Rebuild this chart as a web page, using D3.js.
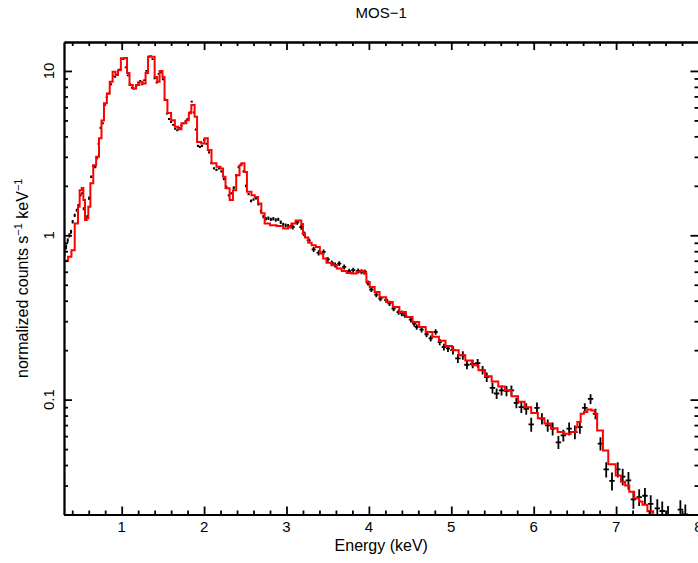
<!DOCTYPE html>
<html><head><meta charset="utf-8">
<script src="https://cdn.jsdelivr.net/npm/d3@7"></script>
<style>body{margin:0;background:#fff}svg{display:block}</style>
</head><body>
<svg id="c" width="698" height="563"></svg>
<script>
// ---------- data ----------
const chartTitle = "MOS\u22121";
const xDomain = [0.3, 8.0];
const yDomain = [0.02, 15];
const xMajorTicks = [1, 2, 3, 4, 5, 6, 7, 8];
const xMinorTicks = [0.4,0.6,0.8,1.2,1.4,1.6,1.8,2.2,2.4,2.6,2.8,3.2,3.4,3.6,3.8,4.2,4.4,4.6,4.8,5.2,5.4,5.6,5.8,6.2,6.4,6.6,6.8,7.2,7.4,7.6,7.8];
const yMajorTicks = [0.1, 1, 10];
const yMajorLabels = ["0.1", "1", "10"];
const yMinorTicks = [0.02,0.03,0.04,0.05,0.06,0.07,0.08,0.09,0.2,0.3,0.4,0.5,0.6,0.7,0.8,0.9,2,3,4,5,6,7,8,9];

// model: [left bin edge (keV), normalized counts s^-1 keV^-1]
const modelSteps = [
[0.300,0.70],[0.350,0.74],[0.390,0.81],[0.430,1.18],[0.470,1.49],[0.490,1.88],[0.515,1.94],[0.535,1.64],[0.555,1.24],[0.575,1.27],[0.595,1.49],[0.620,2.07],[0.655,2.67],[0.690,3.00],[0.725,3.89],[0.755,5.00],[0.785,6.35],[0.820,7.30],[0.855,8.60],[0.890,9.90],[0.925,9.44],[0.955,10.1],[0.990,11.9],[1.030,12.0],[1.065,9.70],[1.095,8.20],[1.135,7.83],[1.175,8.20],[1.215,8.60],[1.255,8.40],[1.290,9.70],[1.320,12.2],[1.360,12.2],[1.400,9.20],[1.430,8.60],[1.460,10.0],[1.495,9.20],[1.520,6.65],[1.555,5.55],[1.600,5.02],[1.645,4.57],[1.685,4.41],[1.725,4.80],[1.785,5.02],[1.815,5.52],[1.845,6.20],[1.885,5.26],[1.915,3.70],[1.965,3.62],[2.005,3.89],[2.045,3.30],[2.090,2.74],[2.150,2.61],[2.200,2.55],[2.230,2.27],[2.260,1.93],[2.310,1.64],[2.350,1.88],[2.390,2.32],[2.430,2.67],[2.455,2.74],[2.490,2.43],[2.520,1.84],[2.575,1.75],[2.615,1.71],[2.655,1.56],[2.695,1.36],[2.735,1.18],[2.800,1.15],[2.880,1.14],[2.960,1.10],[3.020,1.125],[3.060,1.18],[3.110,1.23],[3.180,1.17],[3.200,1.02],[3.225,0.97],[3.265,0.90],[3.305,0.87],[3.355,0.85],[3.405,0.775],[3.445,0.722],[3.485,0.68],[3.545,0.658],[3.610,0.628],[3.670,0.607],[3.730,0.59],[3.790,0.585],[3.850,0.599],[3.900,0.607],[3.940,0.585],[3.970,0.52],[4.010,0.485],[4.070,0.452],[4.130,0.42],[4.210,0.393],[4.290,0.366],[4.370,0.341],[4.450,0.318],[4.530,0.297],[4.610,0.277],[4.690,0.258],[4.770,0.241],[4.850,0.228],[4.930,0.212],[5.010,0.200],[5.090,0.186],[5.170,0.173],[5.250,0.162],[5.330,0.151],[5.410,0.139],[5.490,0.129],[5.570,0.120],[5.650,0.114],[5.730,0.105],[5.810,0.097],[5.890,0.090],[5.970,0.083],[6.050,0.077],[6.130,0.0715],[6.210,0.067],[6.290,0.0635],[6.370,0.062],[6.450,0.0635],[6.510,0.068],[6.530,0.073],[6.570,0.082],[6.610,0.084],[6.650,0.087],[6.700,0.086],[6.740,0.082],[6.770,0.065],[6.840,0.049],[6.905,0.0405],[6.995,0.0345],[7.060,0.0316],[7.110,0.030],[7.160,0.0275],[7.220,0.0251],[7.280,0.024],[7.320,0.0229],[7.380,0.0209],[7.450,0.0193],[7.520,0.018],[7.600,0.0165],[7.700,0.015],[7.800,0.0135],[7.900,0.012]
];
const modelLastEdge = 8.0;

// data bands: [energy (keV), value, 1-sigma error]; half bin widths per band
const softHalfWidth = 0.013;
const softData = [
[0.305,0.775,0.03],[0.325,0.85,0.03],[0.345,0.93,0.03],[0.365,1.00,0.03],[0.385,1.05,0.03],[0.405,1.21,0.03],[0.43,1.32,0.03],[0.455,1.42,0.03],[0.475,1.52,0.03],[0.50,1.75,0.03],[0.52,1.80,0.03],[0.54,1.45,0.03],[0.56,1.29,0.03],[0.585,1.30,0.03],[0.605,1.68,0.04],[0.63,2.27,0.04],[0.655,2.64,0.05],[0.68,2.61,0.05],[0.70,2.95,0.05],[0.72,3.60,0.06],[0.745,4.50,0.07],[0.77,4.80,0.07],[0.795,6.20,0.08],[0.82,6.90,0.09],[0.845,7.30,0.1],[0.87,8.30,0.1],[0.895,9.30,0.1],[0.92,9.20,0.1],[0.945,9.50,0.1],[0.97,10.2,0.12],[0.995,11.9,0.12],[1.02,11.8,0.12],[1.05,10.5,0.12],[1.075,9.4,0.1],[1.10,8.3,0.1],[1.125,7.9,0.1],[1.15,7.8,0.1],[1.175,8.1,0.1],[1.20,8.5,0.1],[1.225,8.7,0.1],[1.25,8.3,0.1],[1.275,8.8,0.1],[1.30,10.0,0.12],[1.325,12.2,0.12],[1.35,12.3,0.12],[1.375,11.8,0.12],[1.40,9.0,0.1],[1.425,8.5,0.1],[1.45,9.6,0.1],[1.475,9.8,0.1],[1.50,8.9,0.1],[1.525,6.7,0.08],[1.55,5.5,0.07],[1.575,5.1,0.07],[1.60,4.9,0.07],[1.625,4.7,0.06],[1.65,4.45,0.06],[1.675,4.35,0.06],[1.70,4.5,0.06],[1.725,4.65,0.06],[1.75,4.8,0.06],[1.775,4.95,0.06],[1.80,5.1,0.07],[1.825,5.6,0.07],[1.85,6.5,0.08],[1.875,5.6,0.07],[1.90,4.4,0.06],[1.925,3.5,0.05],[1.95,3.45,0.05],[1.975,3.5,0.05],[2.00,3.8,0.05],[2.03,3.6,0.05],[2.06,3.2,0.05],[2.09,2.75,0.04],[2.12,2.55,0.04],[2.15,2.5,0.04],[2.18,2.55,0.04],[2.21,2.45,0.04],[2.24,2.2,0.04],[2.27,1.97,0.04],[2.30,1.75,0.03],[2.33,1.8,0.03],[2.36,1.95,0.04],[2.39,2.32,0.04],[2.42,2.6,0.04],[2.45,2.7,0.04],[2.48,2.45,0.04],[2.51,2.0,0.04],[2.54,1.78,0.03],[2.57,1.62,0.03],[2.60,1.65,0.03],[2.63,1.68,0.03],[2.66,1.55,0.03],[2.69,1.40,0.03],[2.72,1.30,0.03],[2.75,1.26,0.03],[2.78,1.27,0.03],[2.81,1.25,0.03],[2.84,1.26,0.03],[2.87,1.24,0.03],[2.90,1.25,0.03],[2.93,1.20,0.03],[2.96,1.16,0.03],[2.99,1.15,0.03],[3.02,1.14,0.03],[3.05,1.13,0.03]
];
const midHalfWidth = 0.025;
const midData = [
[3.075,1.125,0.04],[3.13,1.20,0.04],[3.18,1.12,0.04],[3.21,1.025,0.035],[3.27,0.93,0.03],[3.33,0.82,0.03],[3.39,0.782,0.028],[3.45,0.792,0.028],[3.50,0.713,0.025],[3.55,0.679,0.024],[3.59,0.66,0.023],[3.64,0.673,0.023],[3.70,0.642,0.022],[3.76,0.605,0.021],[3.81,0.613,0.021],[3.87,0.607,0.021],[3.91,0.60,0.021],[3.95,0.599,0.021],[3.99,0.513,0.018],[4.03,0.468,0.017],[4.09,0.436,0.016],[4.14,0.412,0.015],[4.21,0.403,0.015],[4.25,0.385,0.014],[4.30,0.358,0.013],[4.36,0.341,0.013],[4.40,0.335,0.013],[4.44,0.326,0.012],[4.51,0.307,0.012],[4.55,0.29,0.011],[4.58,0.277,0.011],[4.64,0.267,0.011],[4.70,0.25,0.01],[4.75,0.236,0.01],[4.81,0.258,0.01],[4.86,0.224,0.01],[4.91,0.209,0.01],[4.96,0.205,0.01]
];
const hardHalfWidth = 0.033;
const hardData = [
[5.02,0.200,0.012],[5.08,0.178,0.011],[5.14,0.186,0.011],[5.19,0.163,0.01],[5.26,0.165,0.01],[5.32,0.167,0.01],[5.38,0.151,0.009],[5.43,0.137,0.009],[5.50,0.118,0.009],[5.55,0.109,0.008],[5.61,0.114,0.008],[5.67,0.113,0.008],[5.73,0.114,0.008],[5.79,0.0955,0.007],[5.85,0.090,0.007],[5.91,0.088,0.007],[5.97,0.0707,0.007],[6.04,0.089,0.007],[6.10,0.0766,0.006],[6.17,0.0697,0.006],[6.23,0.0666,0.006],[6.30,0.055,0.005],[6.36,0.0606,0.005],[6.43,0.0666,0.006],[6.50,0.0635,0.006],[6.56,0.068,0.006],[6.62,0.089,0.006],[6.69,0.101,0.007],[6.75,0.082,0.006],[6.81,0.054,0.005],[6.88,0.0376,0.004],[6.95,0.032,0.004],[7.02,0.0376,0.004],[7.08,0.034,0.004],[7.15,0.0323,0.004],[7.21,0.0247,0.003],[7.28,0.0255,0.003],[7.35,0.026,0.003],[7.42,0.0232,0.003],[7.50,0.0218,0.003],[7.56,0.021,0.003],[7.63,0.0195,0.003],[7.78,0.0214,0.003],[7.84,0.020,0.003]
];

const xLabel = "Energy (keV)";
const yLabelParts = ["normalized counts s", "\u22121", " keV", "\u22121"];

// ---------- drawing ----------
const FONT = "'Liberation Sans', Arial, Helvetica, sans-serif";
const svg = d3.select("#c");
const L = 64, R = 698.5, T = 42, B = 514.5;
const x = d3.scaleLinear().domain(xDomain).range([L, R]);
const y = d3.scaleLog().domain(yDomain).range([B, T]);

svg.append("defs").append("clipPath").attr("id", "plotclip")
  .append("rect").attr("x", L).attr("y", T).attr("width", R - L).attr("height", B - T);

const plot = svg.append("g").attr("clip-path", "url(#plotclip)");

function drawBand(data, hw) {
  plot.append("g").selectAll("path").data(data).join("path")
    .attr("d", d => `M${x(d[0] - hw)},${y(d[1])}H${x(d[0] + hw)}M${x(d[0])},${y(d[1] - d[2])}V${y(d[1] + d[2])}`)
    .attr("fill", "none").attr("stroke", "#000").attr("stroke-width", 1.8);
}
drawBand(softData, softHalfWidth);
drawBand(midData, midHalfWidth);
drawBand(hardData, hardHalfWidth);

const stepPts = modelSteps.concat([[modelLastEdge, modelSteps[modelSteps.length - 1][1]]]);
plot.append("path").datum(stepPts)
  .attr("d", d3.line().x(d => x(d[0])).y(d => y(d[1])).curve(d3.curveStepAfter))
  .attr("fill", "none").attr("stroke", "#ff0000").attr("stroke-width", 2);

// axes
function styleAxis(g) {
  g.selectAll("path,line").attr("stroke", "#000").attr("stroke-width", 1.8);
  g.selectAll("text").remove();
}
const majorLen = 8, minorLen = 4;
svg.append("g").attr("transform", `translate(0,${B})`)
  .call(d3.axisBottom(x).tickValues(xMajorTicks).tickSize(-majorLen).tickSizeOuter(0)).call(styleAxis);
svg.append("g").attr("transform", `translate(0,${B})`)
  .call(d3.axisBottom(x).tickValues(xMinorTicks).tickSize(-minorLen).tickSizeOuter(0)).call(styleAxis);
svg.append("g").attr("transform", `translate(0,${T})`)
  .call(d3.axisTop(x).tickValues(xMajorTicks).tickSize(-majorLen).tickSizeOuter(0)).call(styleAxis);
svg.append("g").attr("transform", `translate(0,${T})`)
  .call(d3.axisTop(x).tickValues(xMinorTicks).tickSize(-minorLen).tickSizeOuter(0)).call(styleAxis);
svg.append("g").attr("transform", `translate(${L},0)`)
  .call(d3.axisLeft(y).tickValues(yMajorTicks).tickSize(-majorLen).tickSizeOuter(0)).call(styleAxis);
svg.append("g").attr("transform", `translate(${L},0)`)
  .call(d3.axisLeft(y).tickValues(yMinorTicks).tickSize(-minorLen).tickSizeOuter(0)).call(styleAxis);
svg.append("g").attr("transform", `translate(${R},0)`)
  .call(d3.axisRight(y).tickValues(yMajorTicks).tickSize(-majorLen).tickSizeOuter(0)).call(styleAxis);
svg.append("g").attr("transform", `translate(${R},0)`)
  .call(d3.axisRight(y).tickValues(yMinorTicks).tickSize(-minorLen).tickSizeOuter(0)).call(styleAxis);

// tick labels
svg.append("g").selectAll("text").data(xMajorTicks).join("text")
  .attr("x", d => x(d)).attr("y", 532)
  .attr("text-anchor", "middle").attr("font-family", FONT).attr("font-size", 15)
  .text(d => d);
svg.append("g").selectAll("text").data(yMajorTicks).join("text")
  .attr("transform", d => `translate(54,${y(d)}) rotate(-90)`)
  .attr("text-anchor", "middle").attr("font-family", FONT).attr("font-size", 15)
  .text((d, i) => yMajorLabels[i]);

// title & axis labels
svg.append("text").attr("x", (L + R) / 2).attr("y", 18).attr("text-anchor", "middle")
  .attr("font-family", FONT).attr("font-size", 15).text(chartTitle);
svg.append("text").attr("x", (L + R) / 2).attr("y", 551).attr("text-anchor", "middle")
  .attr("font-family", FONT).attr("font-size", 16).text(xLabel);
const yl = svg.append("text").attr("transform", `translate(28,${(T + B) / 2}) rotate(-90)`)
  .attr("text-anchor", "middle").attr("font-family", FONT).attr("font-size", 16);
yl.append("tspan").text(yLabelParts[0]);
yl.append("tspan").attr("dy", -6).attr("font-size", 11).text(yLabelParts[1]);
yl.append("tspan").attr("dy", 6).text(yLabelParts[2]);
yl.append("tspan").attr("dy", -6).attr("font-size", 11).text(yLabelParts[3]);
</script>
</body></html>
